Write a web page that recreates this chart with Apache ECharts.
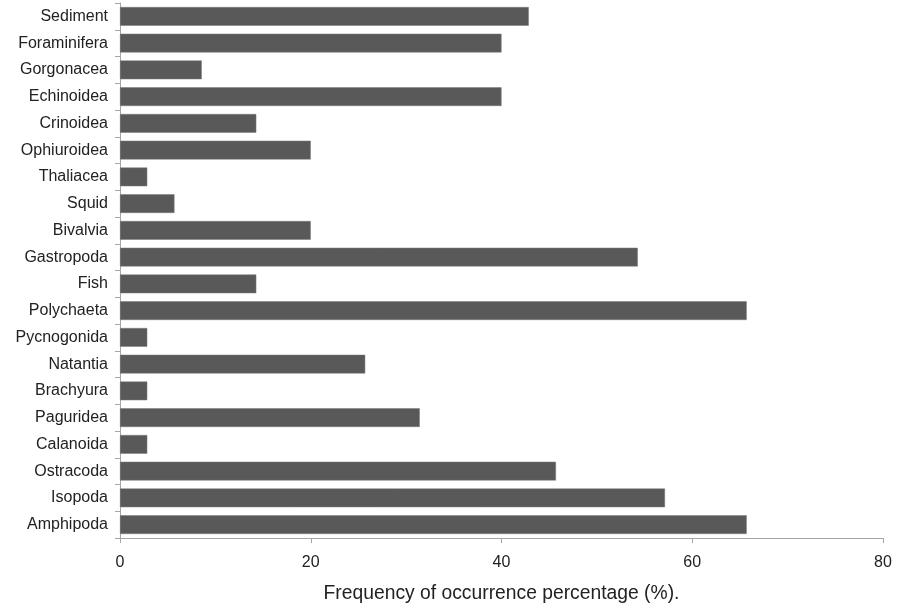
<!DOCTYPE html>
<html>
<head>
<meta charset="utf-8">
<script src="https://cdn.jsdelivr.net/npm/echarts@6/dist/echarts.min.js"></script>
<style>html,body{margin:0;padding:0;background:#fff}#c{width:898px;height:608px}</style>
</head>
<body>
<div id="c"></div>
<script>
var categories = ["Sediment","Foraminifera","Gorgonacea","Echinoidea","Crinoidea","Ophiuroidea","Thaliacea","Squid","Bivalvia","Gastropoda","Fish","Polychaeta","Pycnogonida","Natantia","Brachyura","Paguridea","Calanoida","Ostracoda","Isopoda","Amphipoda"];
var values = [42.86,40.0,8.57,40.0,14.29,20.0,2.86,5.71,20.0,54.29,14.29,65.71,2.86,25.71,2.86,31.43,2.86,45.71,57.14,65.71];
var xTicks = [0,20,40,60,80];
var axisName = "Frequency of occurrence percentage (%).";

var chart = echarts.init(document.getElementById('c'), null, {renderer:'canvas'});
var font = 'Liberation Sans, Arial, sans-serif';
chart.setOption({
  animation:false,
  backgroundColor:'#fff',
  grid:{left:120,right:15,top:3,bottom:70,containLabel:false},
  xAxis:{
    type:'value',min:xTicks[0],max:xTicks[xTicks.length-1],interval:20,
    name:axisName,nameLocation:'middle',nameGap:46,
    nameTextStyle:{fontFamily:font,fontSize:19.3,color:'#222'},
    axisLine:{show:true,lineStyle:{color:'#a6a6a6',width:1}},
    axisTick:{show:true,length:5,lineStyle:{color:'#a6a6a6'}},
    axisLabel:{fontFamily:font,fontSize:16,color:'#222',margin:17},
    splitLine:{show:false}
  },
  yAxis:{
    type:'category',data:categories,inverse:true,
    axisLine:{show:true,lineStyle:{color:'#a6a6a6',width:1}},
    axisTick:{show:true,length:5,lineStyle:{color:'#a6a6a6'}},
    axisLabel:{fontFamily:font,fontSize:16,color:'#222',margin:12},
    splitLine:{show:false}
  },
  series:[{
    type:'bar',data:values,barCategoryGap:'30%',
    itemStyle:{color:'#595959',borderColor:'#7a7a7a',borderWidth:0.5}
  }]
});
</script>
</body>
</html>
